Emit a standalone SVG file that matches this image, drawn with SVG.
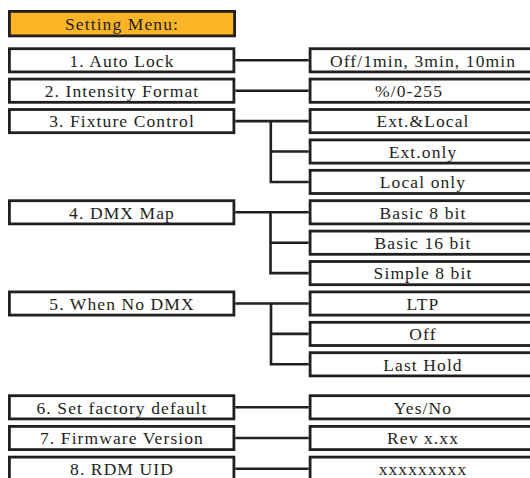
<svg xmlns="http://www.w3.org/2000/svg" width="530" height="478" viewBox="0 0 530 478">
<style>
.box{fill:#fff;stroke:#231f20;stroke-width:2.8}
.title{fill:#fbb426;stroke:#231f20;stroke-width:2.8}
.t{font-family:"Liberation Serif","Times New Roman",serif;font-size:17.5px;letter-spacing:1.1px;fill:#231f20;text-anchor:middle}
.c{fill:none;stroke:#231f20;stroke-width:2.6}
</style>
<rect width="530" height="478" fill="#fff"/>
<g id="title"><rect class="title" x="9.4" y="11.4" width="225.2" height="24.5"/><text class="t" x="122" y="30">Setting Menu:</text></g>

<g id="auto-lock"><rect class="box" x="9.4" y="48.7" width="224.5" height="23.2"/><text class="t" x="122" y="66.5">1. Auto Lock</text></g>
<g id="intensity"><rect class="box" x="9.4" y="79.1" width="224.5" height="23.2"/><text class="t" x="122" y="96.9">2. Intensity Format</text></g>
<g id="fixture"><rect class="box" x="9.4" y="109.5" width="224.5" height="23.2"/><text class="t" x="122" y="127.3">3. Fixture Control</text></g>
<g id="dmx-map"><rect class="box" x="9.4" y="200.7" width="224.5" height="23.2"/><text class="t" x="122" y="218.5">4. DMX Map</text></g>
<g id="no-dmx"><rect class="box" x="9.4" y="291.9" width="224.5" height="23.2"/><text class="t" x="122" y="309.7">5. When No DMX</text></g>
<g id="factory"><rect class="box" x="9.4" y="395.7" width="224.5" height="23.2"/><text class="t" x="122" y="413.5">6. Set factory default</text></g>
<g id="firmware"><rect class="box" x="9.4" y="426.4" width="224.5" height="23.2"/><text class="t" x="122" y="444.2">7. Firmware Version</text></g>
<g id="rdm"><rect class="box" x="9.4" y="457.1" width="224.5" height="23.2"/><text class="t" x="122" y="474.9">8. RDM UID</text></g>

<g id="opt-autolock"><rect class="box" x="310.1" y="48.7" width="226" height="23.2"/><text class="t" x="423" y="66.5">Off/1min, 3min, 10min</text></g>
<g id="opt-intensity"><rect class="box" x="310.1" y="79.1" width="226" height="23.2"/><text class="t" x="409" y="96.9">%/0-255</text></g>
<g id="opt-extlocal"><rect class="box" x="310.1" y="109.5" width="226" height="23.2"/><text class="t" x="423" y="127.3">Ext.&amp;Local</text></g>
<g id="opt-extonly"><rect class="box" x="310.1" y="139.9" width="226" height="23.2"/><text class="t" x="423" y="157.7">Ext.only</text></g>
<g id="opt-localonly"><rect class="box" x="310.1" y="170.3" width="226" height="23.2"/><text class="t" x="423" y="188.1">Local only</text></g>
<g id="opt-basic8"><rect class="box" x="310.1" y="200.7" width="226" height="23.2"/><text class="t" x="423" y="218.5">Basic 8 bit</text></g>
<g id="opt-basic16"><rect class="box" x="310.1" y="231.1" width="226" height="23.2"/><text class="t" x="423" y="248.9">Basic 16 bit</text></g>
<g id="opt-simple8"><rect class="box" x="310.1" y="261.5" width="226" height="23.2"/><text class="t" x="423" y="279.3">Simple 8 bit</text></g>
<g id="opt-ltp"><rect class="box" x="310.1" y="291.9" width="226" height="23.2"/><text class="t" x="423" y="309.7">LTP</text></g>
<g id="opt-off"><rect class="box" x="310.1" y="322.3" width="226" height="23.2"/><text class="t" x="423" y="340.1">Off</text></g>
<g id="opt-lasthold"><rect class="box" x="310.1" y="352.7" width="226" height="23.2"/><text class="t" x="423" y="370.5">Last Hold</text></g>
<g id="opt-yesno"><rect class="box" x="310.1" y="395.7" width="226" height="23.2"/><text class="t" x="423" y="413.5">Yes/No</text></g>
<g id="opt-rev"><rect class="box" x="310.1" y="426.4" width="226" height="23.2"/><text class="t" x="423" y="444.2">Rev x.xx</text></g>
<g id="opt-uid"><rect class="box" x="310.1" y="457.1" width="226" height="23.2"/><text class="t" x="423" y="474.9">xxxxxxxxx</text></g>

<g id="connectors">
<path class="c" d="M235.3 60.3H308.7"/>
<path class="c" d="M235.3 90.7H308.7"/>
<path class="c" d="M235.3 121.1H308.7M270.8 121.1V182H308.7M270.8 151.5H308.7"/>
<path class="c" d="M235.3 212.3H308.7M270.5 212.3V273.1H308.7M270.5 242.7H308.7"/>
<path class="c" d="M235.3 303.5H308.7M271 303.5V364.3H308.7M271 333.9H308.7"/>
<path class="c" d="M235.3 407.3H308.7"/>
<path class="c" d="M235.3 438H308.7"/>
<path class="c" d="M235.3 468.7H308.7"/>
</g>
</svg>
